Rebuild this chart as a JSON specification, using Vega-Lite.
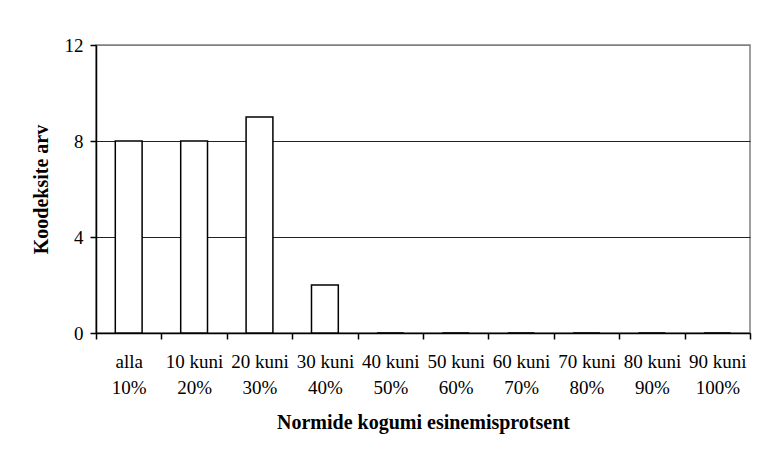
{
  "$schema": "https://vega.github.io/schema/vega-lite/v6.json",
  "autosize": "none",
  "width": 654,
  "height": 288,
  "padding": {"left": 96, "top": 45, "right": 10, "bottom": 117},
  "background": "white",
  "config": {
    "font": "Liberation Serif",
    "view": {"stroke": "#808080", "strokeWidth": 1.5}
  },
  "data": {
    "values": [
      {"cat": "alla|10%", "arv": 8},
      {"cat": "10 kuni|20%", "arv": 8},
      {"cat": "20 kuni|30%", "arv": 9},
      {"cat": "30 kuni|40%", "arv": 2},
      {"cat": "40 kuni|50%", "arv": 0},
      {"cat": "50 kuni|60%", "arv": 0},
      {"cat": "60 kuni|70%", "arv": 0},
      {"cat": "70 kuni|80%", "arv": 0},
      {"cat": "80 kuni|90%", "arv": 0},
      {"cat": "90 kuni|100%", "arv": 0}
    ]
  },
  "mark": {"type": "bar", "fill": "white", "stroke": "black", "strokeWidth": 1.5, "width": {"band": 0.41}},
  "encoding": {
    "x": {
      "field": "cat",
      "type": "nominal",
      "sort": null,
      "scale": {"paddingInner": 0, "paddingOuter": 0},
      "axis": {
        "title": "Normide kogumi esinemisprotsent",
        "titleFont": "Liberation Serif",
        "titleFontSize": 20,
        "titleFontWeight": "bold",
        "titleColor": "black",
        "titlePadding": 15,
        "labelExpr": "split(datum.label, '|')",
        "labelAngle": 0,
        "labelFont": "Liberation Serif",
        "labelFontSize": 19,
        "labelColor": "black",
        "labelLineHeight": 26,
        "labelPadding": 13,
        "tickBand": "extent",
        "tickColor": "black",
        "tickSize": 6,
        "tickWidth": 1.5,
        "domainColor": "black",
        "domainWidth": 1.5,
        "grid": false
      }
    },
    "y": {
      "field": "arv",
      "type": "quantitative",
      "scale": {"domain": [0, 12], "nice": false},
      "axis": {
        "title": "Koodeksite arv",
        "titleFont": "Liberation Serif",
        "titleFontSize": 20,
        "titleFontWeight": "bold",
        "titleColor": "black",
        "titlePadding": 13,
        "values": [0, 4, 8, 12],
        "labelFont": "Liberation Serif",
        "labelFontSize": 19,
        "labelColor": "black",
        "labelPadding": 7,
        "tickColor": "black",
        "tickSize": 6,
        "tickWidth": 1.5,
        "domainColor": "black",
        "domainWidth": 1.5,
        "grid": true,
        "gridColor": {"condition": {"test": "datum.value == 12", "value": "#808080"}, "value": "#222222"},
        "gridWidth": 1
      }
    }
  }
}
